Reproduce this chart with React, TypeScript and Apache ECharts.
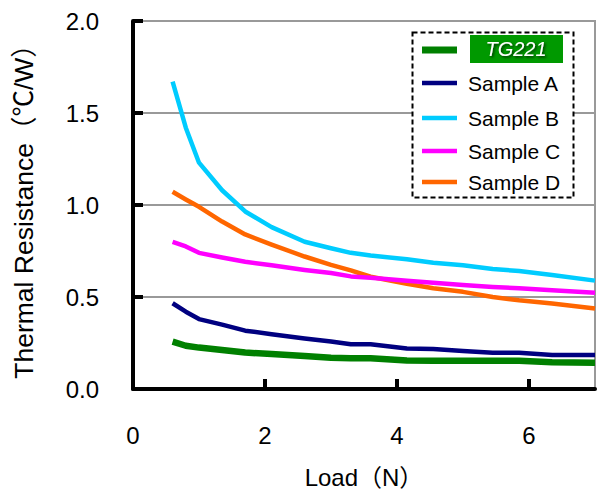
import React, { useEffect, useRef } from "react";
import * as echarts from "echarts";

const loads = [0.6, 0.8, 1.0, 1.35, 1.7, 2.1, 2.6, 3.0, 3.3, 3.6, 4.15, 4.55, 5.0, 5.45, 5.85, 6.35, 7.0];
const tg221 = [0.257, 0.235, 0.225, 0.212, 0.198, 0.19, 0.179, 0.17, 0.167, 0.167, 0.155, 0.154, 0.154, 0.154, 0.154, 0.145, 0.143];
const sampleA = [0.466, 0.42, 0.38, 0.35, 0.317, 0.298, 0.274, 0.258, 0.243, 0.243, 0.22, 0.217, 0.207, 0.197, 0.197, 0.185, 0.185];
const sampleB = [1.67, 1.42, 1.23, 1.08, 0.965, 0.88, 0.8, 0.765, 0.74, 0.725, 0.705, 0.686, 0.672, 0.652, 0.641, 0.62, 0.589];
const sampleC = [0.8, 0.775, 0.74, 0.715, 0.692, 0.672, 0.647, 0.63, 0.612, 0.605, 0.588, 0.578, 0.565, 0.555, 0.547, 0.537, 0.523];
const sampleD = [1.072, 1.03, 0.99, 0.91, 0.84, 0.785, 0.72, 0.675, 0.645, 0.61, 0.572, 0.548, 0.528, 0.5, 0.482, 0.465, 0.438];

const seriesNames = ["TG221", "Sample A", "Sample B", "Sample C", "Sample D"];
const seriesData = [tg221, sampleA, sampleB, sampleC, sampleD];
const seriesColors = ["#008000", "#000080", "#00CCFF", "#FF00FF", "#FF6600"];
const seriesWidths = [6.5, 4.5, 4.5, 4.5, 4.5];

const FONT = "'Liberation Sans', Arial, 'Noto Sans CJK JP', sans-serif";

export default function App() {
  const ref = useRef<HTMLDivElement>(null);
  useEffect(() => {
    if (!ref.current) return;
    const chart = echarts.init(ref.current, undefined, { renderer: "svg" });

    const legendRows = [50, 83, 118, 151, 182];
    const legendGraphics: any[] = [
      {
        type: "rect",
        shape: { x: 412.5, y: 32.5, width: 161, height: 165 },
        style: { fill: "#fff", stroke: "#000", lineWidth: 2, lineDash: [5, 3] },
        z: 100,
      },
    ];
    seriesNames.forEach((name, i) => {
      const y = legendRows[i];
      legendGraphics.push({
        type: "line",
        shape: { x1: 422, y1: y, x2: 457, y2: y },
        style: { stroke: seriesColors[i], lineWidth: i === 0 ? 7 : 4.5 },
        z: 101,
      });
      if (i === 0) {
        legendGraphics.push({
          type: "rect",
          shape: { x: 470, y: 35, width: 93, height: 28 },
          style: { fill: "#009900" },
          z: 101,
        });
        legendGraphics.push({
          type: "text",
          x: 516,
          y: 49,
          style: {
            text: name,
            fill: "#fff",
            font: `italic 20px ${FONT}`,
            align: "center",
            verticalAlign: "middle",
            textShadowColor: "#003300",
            textShadowBlur: 2,
            textShadowOffsetX: 1.5,
            textShadowOffsetY: 1.5,
          },
          z: 102,
        });
      } else {
        legendGraphics.push({
          type: "text",
          x: 468,
          y: y,
          style: {
            text: name,
            fill: "#000",
            font: `21px ${FONT}`,
            align: "left",
            verticalAlign: "middle",
          },
          z: 101,
        });
      }
    });

    chart.setOption({
      animation: false,
      backgroundColor: "#fff",
      grid: {
        left: 133,
        right: 8,
        top: 21,
        bottom: 101,
        show: true,
        borderColor: "#999",
        borderWidth: 2,
        backgroundColor: "transparent",
        containLabel: false,
        outerBoundsMode: "none",
      },
      xAxis: {
        type: "value",
        min: 0,
        max: 7,
        interval: 2,
        name: "Load（N）",
        nameLocation: "middle",
        nameGap: 76,
        nameTextStyle: { fontFamily: FONT, fontSize: 24, color: "#000" },
        axisLine: { show: true, onZero: false, lineStyle: { color: "#000", width: 4 } },
        axisTick: { show: true, inside: true, length: 10, lineStyle: { color: "#000", width: 4 } },
        axisLabel: {
          fontFamily: FONT,
          fontSize: 24,
          color: "#000",
          margin: 34,
          showMaxLabel: false,
        },
        splitLine: { show: false },
      },
      yAxis: {
        type: "value",
        min: 0,
        max: 2,
        interval: 0.5,
        name: "Thermal Resistance（℃/W）",
        nameLocation: "middle",
        nameGap: 96,
        nameTextStyle: { fontFamily: FONT, fontSize: 26.5, color: "#000" },
        axisLine: { show: true, lineStyle: { color: "#000", width: 4 } },
        axisTick: { show: true, inside: true, length: 10, lineStyle: { color: "#000", width: 4 } },
        axisLabel: {
          fontFamily: FONT,
          fontSize: 24,
          color: "#000",
          margin: 34,
          formatter: (v: number) => v.toFixed(1),
        },
        splitLine: { show: true, lineStyle: { color: "#999", width: 2 } },
      },
      series: seriesNames.map((name, i) => ({
        name,
        type: "line",
        data: loads.map((x, j) => [x, seriesData[i][j]]),
        showSymbol: false,
        symbol: "none",
        lineStyle: { color: seriesColors[i], width: seriesWidths[i], cap: "butt", join: "round" },
        itemStyle: { color: seriesColors[i] },
        z: 10 - i,
      })),
      graphic: legendGraphics,
    });

    return () => chart.dispose();
  }, []);

  return <div ref={ref} style={{ width: 603, height: 490, position: "absolute", left: 0, top: 0 }} />;
}
